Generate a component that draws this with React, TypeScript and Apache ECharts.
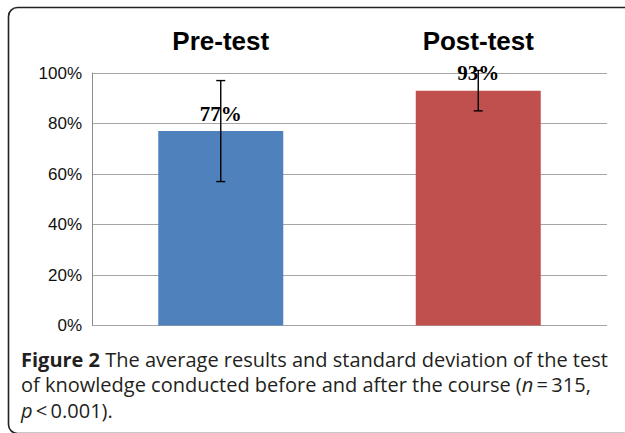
import React, { useEffect, useRef } from "react";
import * as echarts from "echarts";

const categories = ["Pre-test", "Post-test"];
const meanValues = [77, 93];
const sdValues = [20, 8];
const barColors = ["#4F81BD", "#C0504D"];
const yMin = 0;
const yMax = 100;
const yInterval = 20;
const captionLines = [
  "{b|Figure 2} The average results and standard deviation of the test",
  "of knowledge conducted before and after the course ({i|n}\u2009=\u2009315,",
  "{i|p}\u2009<\u20090.001).",
];

export default function App() {
  const ref = useRef<HTMLDivElement>(null);
  useEffect(() => {
    if (!ref.current) return;
    const chart = echarts.init(ref.current, null, { renderer: "svg" });
    const captionFont = "'Open Sans', 'Noto Sans', sans-serif";
    const captionSize = 20;
    chart.setOption({
      animation: false,
      backgroundColor: "#ffffff",
      grid: { left: 92, right: 18, top: 73, bottom: 107.5 },
      xAxis: {
        type: "category",
        position: "top",
        data: categories,
        axisLine: { show: false },
        axisTick: { show: false },
        axisLabel: {
          margin: 19,
          color: "#000",
          fontFamily: "'Liberation Sans', Arial, sans-serif",
          fontWeight: "bold",
          fontSize: 26,
        },
      },
      yAxis: {
        type: "value",
        min: yMin,
        max: yMax,
        interval: yInterval,
        axisLine: { show: true, lineStyle: { color: "#8c8c8c", width: 1 } },
        axisTick: { show: false },
        splitLine: { show: true, lineStyle: { color: "#a6a6a6", width: 1.2 } },
        axisLabel: {
          margin: 10,
          color: "#111",
          fontFamily: "'Liberation Sans', Arial, sans-serif",
          fontSize: 17,
          formatter: (v: number) => `${v}%`,
        },
      },
      series: [
        {
          type: "bar",
          data: meanValues.map((v, i) => ({ value: v, itemStyle: { color: barColors[i] } })),
          barWidth: 125,
          label: {
            show: true,
            position: "top",
            distance: 7,
            formatter: (p: any) => `${p.value}%`,
            color: "#000",
            fontFamily: "'Liberation Serif', 'Times New Roman', serif",
            fontWeight: "bold",
            fontSize: 21,
          },
          z: 2,
        },
        {
          type: "custom",
          clip: false,
          z: 10,
          data: categories.map((_, i) => [i, meanValues[i], sdValues[i]]),
          renderItem: (params: any, api: any) => {
            const x = api.value(0);
            const m = api.value(1);
            const sd = api.value(2);
            const hi = api.coord([x, m + sd]);
            const lo = api.coord([x, m - sd]);
            const half = 4.5;
            const style = { stroke: "#000", lineWidth: 1.4 };
            return {
              type: "group",
              children: [
                { type: "line", shape: { x1: hi[0], y1: hi[1], x2: lo[0], y2: lo[1] }, style },
                { type: "line", shape: { x1: hi[0] - half, y1: hi[1], x2: hi[0] + half, y2: hi[1] }, style },
                { type: "line", shape: { x1: lo[0] - half, y1: lo[1], x2: lo[0] + half, y2: lo[1] }, style },
              ],
            };
          },
        },
      ],
      graphic: [
        {
          type: "rect",
          shape: { x: 8.5, y: 7.5, width: 700, height: 426, r: 9 },
          style: { fill: "none", stroke: "#222", lineWidth: 1.6 },
          silent: true,
        },
        ...captionLines.map((line, i) => ({
          type: "text",
          left: 21,
          top: 349 + i * 25.5,
          style: {
            text: line,
            fill: "#231f20",
            font: `${captionSize}px ${captionFont}`,
            fontSize: captionSize,
            fontFamily: captionFont,
            rich: {
              b: { fontWeight: "bold", fontSize: captionSize, fontFamily: captionFont, fill: "#231f20" },
              i: { fontStyle: "italic", fontSize: captionSize, fontFamily: captionFont, fill: "#231f20" },
            },
          },
        })),
      ],
    });
    return () => chart.dispose();
  }, []);
  return (
    <div
      ref={ref}
      style={{ position: "fixed", left: 0, top: 0, width: 625, height: 433 }}
    />
  );
}
